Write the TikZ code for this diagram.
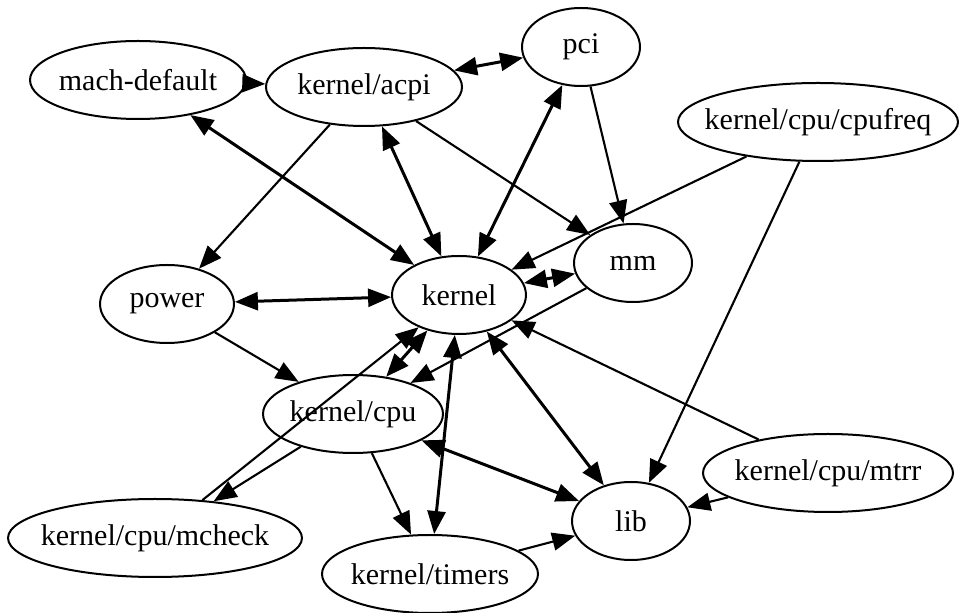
\documentclass[tikz,border=0pt]{standalone}
\usepackage{fontspec}
\setmainfont{Liberation Serif}
\usetikzlibrary{shapes.geometric,arrows.meta}
\newcommand\lbltxt[1]{\makebox[0pt]{#1}}
\begin{document}
\begin{tikzpicture}[x=1pt,y=1pt,
  mod/.style={draw, ellipse, line width=2pt, inner sep=0pt,
              minimum height=78pt, font=\fontsize{30}{36}\selectfont},
  dep/.style={line width=2.1pt, -{Triangle[length=23pt,width=18pt]}},
  mutual/.style={line width=3pt,
                 {Triangle[length=23pt,width=18pt]}-{Triangle[length=23pt,width=18pt]}}]
\useasboundingbox (0,0) rectangle (959,613);

% modules
\node[mod, minimum width=216pt] (md)      at (138,533) {\lbltxt{mach-default}};
\node[mod, minimum width=196pt] (acpi)    at (364,526) {\lbltxt{kernel/acpi}};
\node[mod, minimum width=118pt] (pci)     at (581,566) {\lbltxt{pci}};
\node[mod, minimum width=280pt] (cpufreq) at (818,491) {\lbltxt{kernel/cpu/cpufreq}};
\node[mod, minimum width=134pt] (power)   at (167,309) {\lbltxt{power}};
\node[mod, minimum width=134pt] (kernel)  at (459,318) {\lbltxt{kernel}};
\node[mod, minimum width=118pt] (mm)      at (633,350) {\lbltxt{mm}};
\node[mod, minimum width=180pt] (cpu)     at (353,199) {\lbltxt{kernel/cpu}};
\node[mod, minimum width=294pt] (mcheck)  at (155,75)  {\lbltxt{kernel/cpu/mcheck}};
\node[mod, minimum width=216pt] (timers)  at (430,39)  {\lbltxt{kernel/timers}};
\node[mod, minimum width=118pt] (lib)     at (631,92)  {\lbltxt{lib}};
\node[mod, minimum width=250pt] (mtrr)    at (828,140) {\lbltxt{kernel/cpu/mtrr}};

% one-way dependencies
\draw[dep] (md) -- (acpi);
\draw[dep] (acpi) -- (power);
\draw[dep] (acpi) -- (mm);
\draw[dep] (pci) -- (mm);
\draw[dep] (cpufreq) -- (kernel);
\draw[dep] (cpufreq) -- (lib);
\draw[dep] (mm) -- (cpu);
\draw[dep] (power) -- (cpu);
\draw[dep] (mcheck) -- (kernel);
\draw[dep] (cpu) -- (mcheck);
\draw[dep] (cpu) -- (timers);
\draw[dep] (mtrr) -- (kernel);
\draw[dep] (mtrr) -- (lib);
\draw[dep] (timers) -- (lib);

% mutual dependencies
\draw[mutual] (md) -- (kernel);
\draw[mutual] (acpi) -- (pci);
\draw[mutual] (acpi) -- (kernel);
\draw[mutual] (pci) -- (kernel);
\draw[mutual] (mm) -- (kernel);
\draw[mutual] (power) -- (kernel);
\draw[mutual] (cpu) -- (kernel);
\draw[mutual] (kernel) -- (timers);
\draw[mutual] (kernel) -- (lib);
\draw[mutual] (cpu) -- (lib);
\end{tikzpicture}
\end{document}
